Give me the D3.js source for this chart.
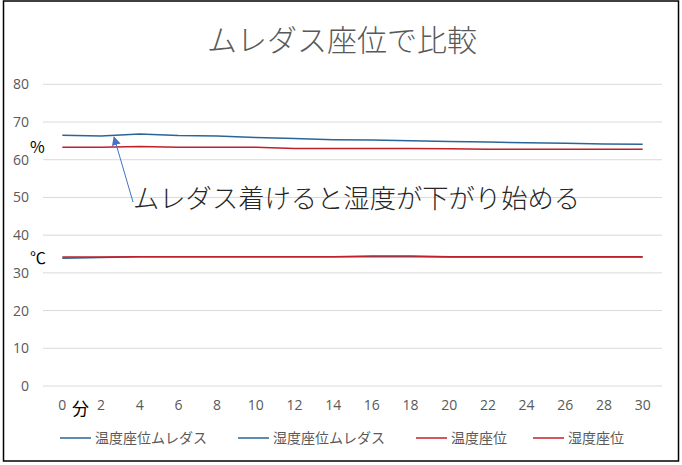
<!DOCTYPE html>
<html lang="ja">
<head>
<meta charset="UTF-8" />
<title>ムレダス座位で比較</title>
<script src="https://cdn.jsdelivr.net/npm/d3@7"></script>
<style>
  body { margin: 0; background: #fff; }
  text { font-family: "Noto Sans CJK JP", "Noto Sans", sans-serif; }
</style>
</head>
<body>
<script>
var minutes = [0, 2, 4, 6, 8, 10, 12, 14, 16, 18, 20, 22, 24, 26, 28, 30];
var tempMuredas = [33.9, 34.1, 34.3, 34.3, 34.3, 34.3, 34.3, 34.3, 34.3, 34.3, 34.2, 34.2, 34.2, 34.2, 34.2, 34.2];
var humidMuredas = [66.5, 66.3, 66.8, 66.4, 66.3, 65.9, 65.6, 65.3, 65.2, 65.0, 64.8, 64.7, 64.5, 64.4, 64.2, 64.1];
var tempSitting = [34.2, 34.2, 34.3, 34.3, 34.3, 34.3, 34.3, 34.3, 34.5, 34.5, 34.3, 34.3, 34.3, 34.3, 34.3, 34.3];
var humidSitting = [63.3, 63.3, 63.5, 63.3, 63.3, 63.3, 63.0, 63.0, 63.0, 63.0, 62.9, 62.8, 62.8, 62.8, 62.8, 62.8];
var yTicks = [0, 10, 20, 30, 40, 50, 60, 70, 80];
var seriesNames = ["温度座位ムレダス", "湿度座位ムレダス", "温度座位", "湿度座位"];

var w = 682, h = 465;
var blue = "#2b6597", red = "#c0202a";

var series = [
  {name: seriesNames[0], values: tempMuredas, color: blue},
  {name: seriesNames[1], values: humidMuredas, color: blue},
  {name: seriesNames[2], values: tempSitting, color: red},
  {name: seriesNames[3], values: humidSitting, color: red}
];

var svg = d3.select("body").append("svg")
  .attr("width", w).attr("height", h);

// chart frame
svg.append("rect")
  .attr("x", 3.5).attr("y", 1).attr("width", 675).attr("height", 460)
  .attr("fill", "#fff").attr("stroke", "#000").attr("stroke-width", 1.5);

var xScale = d3.scaleBand()
  .domain(minutes)
  .range([43, 662]);
var yScale = d3.scaleLinear()
  .domain([0, 80])
  .range([386, 84.3]);

// gridlines
svg.append("g")
  .selectAll("line")
  .data(yTicks)
  .enter()
  .append("line")
  .attr("x1", 43).attr("x2", 662)
  .attr("y1", function(d) { return yScale(d); })
  .attr("y2", function(d) { return yScale(d); })
  .attr("stroke", "#d9d9d9").attr("stroke-width", 1);

var yAxis = d3.axisLeft(yScale).tickValues(yTicks).tickSize(0).tickPadding(0);
var gy = svg.append("g")
  .attr("transform", "translate(29,0)")
  .call(yAxis);
gy.select(".domain").remove();
gy.selectAll("text")
  .attr("fill", "#595959")
  .style("font-size", "14px")
  .style("font-family", "'Open Sans', 'Noto Sans', sans-serif");

var xAxis = d3.axisBottom(xScale).tickSize(0).tickPadding(0);
var gx = svg.append("g")
  .attr("transform", "translate(0,400)")
  .call(xAxis);
gx.select(".domain").remove();
gx.selectAll("text")
  .attr("fill", "#595959")
  .style("font-size", "14px")
  .style("font-family", "'Open Sans', 'Noto Sans', sans-serif");

var line = d3.line()
  .x(function(d, i) { return xScale(minutes[i]) + xScale.bandwidth() / 2; })
  .y(function(d) { return yScale(d); });

svg.append("g")
  .selectAll("path")
  .data(series)
  .enter()
  .append("path")
  .attr("d", function(d) { return line(d.values); })
  .attr("fill", "none")
  .attr("stroke", function(d) { return d.color; })
  .attr("stroke-width", 1.5);

// title
svg.append("text")
  .text("ムレダス座位で比較")
  .attr("x", 342).attr("y", 51)
  .attr("text-anchor", "middle")
  .attr("fill", "#595959")
  .style("font-size", "30px")
  .style("font-weight", "300");

// unit labels
svg.append("text").text("%")
  .attr("x", 30).attr("y", 153)
  .style("font-size", "16px");
svg.append("text").text("℃")
  .attr("x", 30).attr("y", 264)
  .style("font-size", "16px");
svg.append("text").text("分")
  .attr("x", 72).attr("y", 415)
  .style("font-size", "17px");

// annotation with arrow
svg.append("defs").append("marker")
  .attr("id", "head")
  .attr("viewBox", "0 0 10 10")
  .attr("refX", 9).attr("refY", 5)
  .attr("markerWidth", 9).attr("markerHeight", 9)
  .attr("markerUnits", "userSpaceOnUse")
  .attr("orient", "auto")
  .append("path")
  .attr("d", "M0,0L10,5L0,10Z")
  .attr("fill", "#4472c4");
svg.append("line")
  .attr("x1", 133).attr("y1", 202)
  .attr("x2", 114).attr("y2", 137)
  .attr("stroke", "#4472c4").attr("stroke-width", 1)
  .attr("marker-end", "url(#head)");
svg.append("text")
  .text("ムレダス着けると湿度が下がり始める")
  .attr("x", 133).attr("y", 208)
  .attr("fill", "#262626")
  .style("font-size", "26.3px")
  .style("font-weight", "300");

// legend
var legendX = [60, 238, 416, 533];
var lg = svg.append("g")
  .selectAll("g")
  .data(series)
  .enter()
  .append("g")
  .attr("transform", function(d, i) { return "translate(" + legendX[i] + ",438)"; });
lg.append("line")
  .attr("x1", 0).attr("x2", 31)
  .attr("stroke", function(d) { return d.color; })
  .attr("stroke-width", 1.5);
lg.append("text")
  .text(function(d) { return d.name; })
  .attr("x", 35).attr("y", 5)
  .attr("fill", "#595959")
  .style("font-size", "14px");
</script>
</body>
</html>
